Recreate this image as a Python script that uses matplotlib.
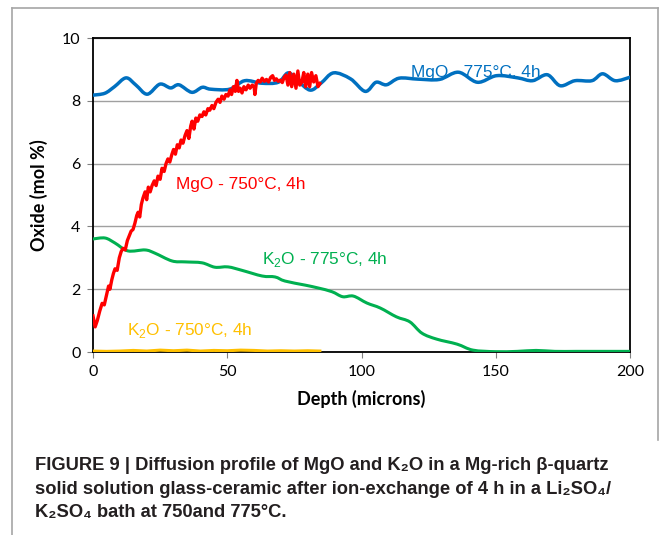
import matplotlib
matplotlib.use("Agg")
import matplotlib.pyplot as plt
import numpy as np
from matplotlib.lines import Line2D
from matplotlib.path import Path
from matplotlib.patches import PathPatch

plt.rcParams["mathtext.fontset"] = "custom"
plt.rcParams["mathtext.rm"] = "Liberation Sans"

# MgO profile at 775 C (depth in microns, oxide in mol %)
blue_depth = [0, 4.4, 8, 12.3, 16, 20.2, 24.9, 28.9, 32, 36.8, 40.7, 43.8, 50.9,
              56.5, 62.8, 69, 72.7, 76.2, 80.9, 84.9, 89.6, 95.9, 101.4, 105.4,
              109.3, 114, 121, 129, 136.1, 143.2, 150.3, 158.2, 163.7, 169.2,
              174, 179.5, 185.8, 189.8, 194.5, 200]
blue_mgo = [8.18, 8.24, 8.45, 8.73, 8.5, 8.21, 8.53, 8.41, 8.51, 8.27, 8.43, 8.37, 8.37,
            8.64, 8.56, 8.59, 8.89, 8.64, 8.34, 8.56, 8.89, 8.70, 8.30, 8.59,
            8.51, 8.72, 8.69, 8.68, 8.91, 8.59, 8.80, 8.73, 8.64, 8.83,
            8.48, 8.64, 8.64, 8.86, 8.64, 8.75]

# MgO profile at 750 C
red_depth = [0, 0.8, 1.6, 2.5, 3.4, 4.2, 5.0, 5.8, 6.3, 7.0, 7.6, 8.2, 9.0, 9.8,
             10.5, 11.2, 12.0, 12.8, 13.5, 14.2, 14.9, 15.6, 16.3, 16.8, 17.4,
             18.0, 18.6, 19.4, 20.0, 20.6, 21.3, 22.0, 22.8, 23.5, 24.2, 25.0,
             25.7, 26.5, 27.2, 27.9, 28.6, 29.4, 30.0, 30.7, 31.4, 32.1, 32.8,
             33.5, 34.3, 35.0, 35.7, 36.4, 36.9, 37.6, 38.3, 39.0, 39.8, 40.6,
             41.3, 42.0, 42.8, 43.5, 44.3, 45.0, 45.8, 46.6, 47.3, 48.0, 48.8,
             49.5, 50.3, 51.0, 51.6, 52.3, 53.0, 53.6, 54.2, 54.8, 55.5, 56.2,
             57.0, 57.8, 58.5, 59.3, 60.0, 60.3, 60.8, 61.5, 62.3, 63.0, 63.8,
             64.6, 65.4, 66.2, 66.9, 67.6, 68.3, 69.0, 69.8, 70.5, 71.2, 71.9,
             72.6, 73.3, 74.0, 74.8, 75.6, 76.3, 77.0, 77.8, 78.5, 79.2, 80.0,
             80.7, 81.4, 82.2, 83.0, 83.8, 84.5]
red_mgo = [1.15, 0.8, 1.0, 1.3, 1.55, 1.5, 1.8, 2.1, 2.0, 2.3, 2.5, 2.65, 2.6, 3.0,
           3.2, 3.3, 3.25, 3.55, 3.7, 3.85, 3.9, 4.1, 4.35, 4.45, 4.3,
           4.7, 4.9, 5.1, 4.85, 5.25, 5.1, 5.3, 5.45, 5.3, 5.6, 5.5,
           5.85, 5.75, 6.0, 6.15, 6.05, 6.3, 6.45, 6.3, 6.6, 6.5, 6.75,
           6.65, 6.9, 7.05, 6.8, 7.2, 7.35, 7.1, 7.45, 7.35, 7.55, 7.5,
           7.65, 7.55, 7.75, 7.7, 7.85, 7.75, 7.95, 8.05, 7.95, 8.15, 8.05,
           8.2, 8.15, 8.35, 8.2, 8.45, 8.3, 8.65, 8.3, 8.4, 8.25, 8.45,
           8.35, 8.5, 8.4, 8.5, 8.45, 8.2, 8.55, 8.65, 8.6, 8.72, 8.62,
           8.68, 8.6, 8.75, 8.8, 8.65, 8.7, 8.62, 8.66, 8.58, 8.75, 8.82,
           8.5, 8.9, 8.45, 8.85, 8.4, 8.95, 8.5, 8.6, 8.9, 8.45, 8.85,
           8.45, 8.9, 8.6, 8.8, 8.45, 8.55]

# K2O profile at 775 C
green_depth = [0, 4.5, 8.2, 13, 19.4, 23, 29.4, 34.3, 40.6, 45.4, 50.3, 55.5, 63,
               67.8, 71.5, 79, 83.8, 89, 93, 97, 102, 107, 113, 118, 122.5, 128,
               135.6, 141.5, 150, 158, 165, 172, 180, 190, 200]
green_k2o = [3.6, 3.63, 3.47, 3.22, 3.25, 3.15, 2.9, 2.87, 2.84, 2.7, 2.71, 2.6, 2.42,
             2.39, 2.26, 2.13, 2.04, 1.92, 1.76, 1.78, 1.56, 1.4, 1.12, 0.96, 0.6, 0.41,
             0.25, 0.06, 0.01, 0.02, 0.05, 0.02, 0.02, 0.02, 0.02]

# K2O profile at 750 C
yellow_depth = [0, 5, 10, 15, 20, 25, 30, 35, 40, 45, 50, 55, 60, 65, 70, 75, 80, 84.5]
yellow_k2o = [0.03, 0.02, 0.03, 0.05, 0.03, 0.06, 0.04, 0.06, 0.03, 0.05, 0.04, 0.06,
              0.05, 0.03, 0.04, 0.03, 0.04, 0.03]

BLUE = "#0070C0"
RED = "#FF0000"
GREEN = "#00B050"
YELLOW = "#FFC000"


def smooth_line(ax, xs, ys, **kw):
    """Excel-style smoothed line: Catmull-Rom segments as cubic beziers."""
    x = np.asarray(xs, float)
    y = np.asarray(ys, float)
    n = len(x)
    verts = [(x[0], y[0])]
    codes = [Path.MOVETO]
    for i in range(n - 1):
        x0, y0 = (x[i - 1], y[i - 1]) if i > 0 else (x[i], y[i])
        x3, y3 = (x[i + 2], y[i + 2]) if i + 2 < n else (x[i + 1], y[i + 1])
        c1 = (x[i] + (x[i + 1] - x0) / 6, y[i] + (y[i + 1] - y0) / 6)
        c2 = (x[i + 1] - (x3 - x[i]) / 6, y[i + 1] - (y3 - y[i]) / 6)
        verts += [c1, c2, (x[i + 1], y[i + 1])]
        codes += [Path.CURVE4] * 3
    patch = PathPatch(Path(verts, codes), fill=False, capstyle="round",
                      joinstyle="round", **kw)
    ax.add_patch(patch)


fig = plt.figure(figsize=(6.64, 5.35), dpi=100)
W, H = 664, 535

# grey frame around the chart panel
frame = dict(color="#a6a6a6", lw=1.2, transform=fig.transFigure)
fig.add_artist(Line2D([12 / W, 12 / W], [0, 1 - 8 / H], **frame))
fig.add_artist(Line2D([12 / W, 658 / W], [1 - 8 / H, 1 - 8 / H], **frame))
fig.add_artist(Line2D([658 / W, 658 / W], [1 - 8 / H, 1 - 440 / H], **frame))

ax = fig.add_axes([93 / W, 1 - 352 / H, (630 - 93) / W, (352 - 38) / H])

ax.plot(yellow_depth, yellow_k2o, color=YELLOW, lw=2.2, zorder=3)
smooth_line(ax, green_depth, green_k2o, color=GREEN, lw=2.2, zorder=3)
smooth_line(ax, blue_depth, blue_mgo, color=BLUE, lw=2.5, zorder=4)
ax.plot(red_depth, red_mgo, color=RED, lw=2.4, zorder=5)

ax.set_xlim(0, 200)
ax.set_ylim(0, 10)
ax.set_xticks([0, 50, 100, 150, 200])
ax.set_yticks([0, 2, 4, 6, 8, 10])
ax.grid(axis="y", color="#a0a0a0", lw=1.0)
ax.set_axisbelow(True)
for s in ax.spines.values():
    s.set_color("black")
    s.set_linewidth(1.3)
ax.tick_params(direction="out", length=4, width=0.8, color="#808080",
               labelsize=11.5, pad=5)
for lab in ax.get_xticklabels() + ax.get_yticklabels():
    lab.set_family("Lato")

ax.set_xlabel("Depth (microns)", family="Lato", fontweight="bold", fontsize=13,
              labelpad=8)
ax.set_ylabel("Oxide (mol %)", family="Lato", fontweight="bold", fontsize=13,
              labelpad=10)

lbl = dict(family=["Liberation Sans", "DejaVu Sans"], fontsize=12.4, va="center")
ax.text(118.5, 8.9, "MgO - 775°C, 4h", color=BLUE, **lbl)
ax.text(31, 5.35, "MgO - 750°C, 4h", color=RED, **lbl)
ax.text(63, 2.95, "K$_2$O - 775°C, 4h", color=GREEN, **lbl)
ax.text(12.5, 0.7, "K$_2$O - 750°C, 4h", color=YELLOW, **lbl)

cap = ["FIGURE 9 | Diffusion profile of MgO and K₂O in a Mg-rich β-quartz",
       "solid solution glass-ceramic after ion-exchange of 4 h in a Li₂SO₄/",
       "K₂SO₄ bath at 750and 775°C."]
for i, line in enumerate(cap):
    fig.text(35 / W, 1 - (466 + 23.5 * i) / H, line, fontsize=13.2,
             fontweight="bold", color="#231f20", va="center",
             family=["Liberation Sans", "DejaVu Sans"])

fig.savefig("out.png", dpi=100)
